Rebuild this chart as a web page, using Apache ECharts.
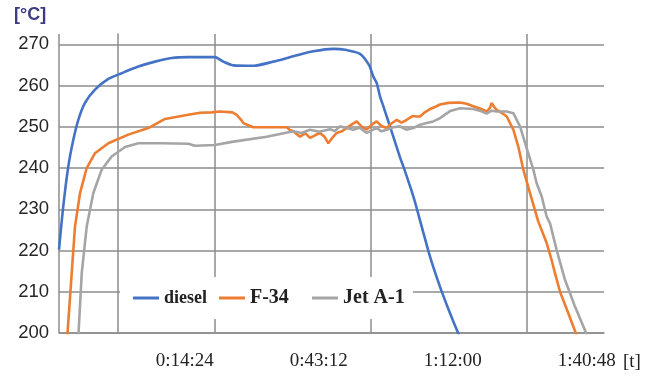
<!DOCTYPE html>
<html>
<head>
<meta charset="utf-8">
<title>Temperatura spalin</title>
<script src="https://cdn.jsdelivr.net/npm/echarts@6/dist/echarts.min.js"></script>
<style>
  html, body { margin: 0; padding: 0; background: #fff; }
  #chart { width: 660px; height: 381px; }
</style>
</head>
<body>
<div id="chart"></div>
<script>
// Time in seconds, temperature in °C
const dieselTime = [-756, -701, -636, -572, -507, -421, -292, -120, 52, 266, 482, 697, 911, 1255, 1362, 1491, 1749, 2007, 2265, 2522, 2780, 2953, 3124, 3240, 3296, 3340, 3382, 3425, 3469, 3554, 3640, 3683, 3812, 3920, 4027, 4156, 4285, 4400];
const dieselTemp = [220.2, 230.7, 240.4, 246.8, 251.7, 255.8, 259.0, 261.6, 263.0, 264.6, 265.8, 266.7, 266.9, 266.9, 265.8, 264.9, 264.8, 265.8, 267.1, 268.3, 268.9, 268.6, 267.7, 265.0, 262.2, 260.6, 257.4, 255.0, 252.5, 247.6, 242.6, 240.4, 233.1, 225.8, 218.5, 211.2, 204.8, 199.5];

const f34Time = [-650, -592, -550, -485, -399, -292, -120, 137, 395, 611, 911, 1062, 1213, 1320, 1480, 1535, 1600, 1620, 1749, 1950, 2179, 2222, 2265, 2351, 2420, 2480, 2550, 2609, 2670, 2716, 2770, 2824, 2890, 2953, 3020, 3082, 3150, 3211, 3280, 3340, 3400, 3469, 3530, 3598, 3660, 3727, 3800, 3855, 3898, 3960, 4027, 4090, 4156, 4263, 4414, 4500, 4585, 4680, 4758, 4800, 4822, 4850, 4887, 4950, 5016, 5101, 5165, 5230, 5316, 5423, 5531, 5595, 5638, 5703, 5810, 5920];
const f34Temp = [199.0, 214.5, 225.8, 233.9, 240.0, 243.6, 246.0, 248.1, 249.7, 251.9, 252.9, 253.4, 253.5, 253.7, 253.5, 252.9, 251.5, 250.9, 249.9, 249.9, 249.9, 249.2, 248.9, 247.6, 248.4, 247.3, 248.0, 248.5, 247.5, 246.0, 247.4, 248.5, 248.9, 249.7, 250.6, 251.3, 250.0, 249.3, 250.6, 251.3, 250.2, 249.7, 250.8, 251.7, 251.0, 251.7, 252.6, 252.5, 252.5, 253.5, 254.3, 254.8, 255.4, 255.8, 255.9, 255.6, 255.0, 254.4, 253.7, 254.6, 255.8, 254.9, 254.1, 253.4, 252.5, 249.3, 245.2, 239.6, 233.9, 227.0, 221.8, 217.7, 214.5, 210.0, 204.8, 199.3];

const jetTime = [-507, -463, -399, -314, -206, -77, 95, 266, 568, 911, 997, 1255, 1491, 1922, 2265, 2370, 2480, 2600, 2738, 2800, 2867, 2950, 3038, 3120, 3211, 3280, 3340, 3400, 3469, 3550, 3640, 3720, 3812, 3900, 3984, 4070, 4156, 4285, 4414, 4585, 4680, 4758, 4820, 4887, 5016, 5101, 5187, 5273, 5359, 5402, 5467, 5531, 5574, 5660, 5767, 5896, 6050];
const jetTemp = [199.0, 214.5, 225.8, 233.9, 239.6, 242.8, 245.1, 246.0, 246.0, 245.9, 245.4, 245.6, 246.4, 247.6, 248.9, 248.5, 249.3, 248.8, 249.4, 249.0, 250.1, 249.7, 249.3, 249.8, 248.5, 249.2, 249.7, 248.9, 249.3, 249.9, 250.1, 249.3, 249.7, 250.5, 250.9, 251.3, 252.1, 253.8, 254.5, 254.3, 253.8, 253.2, 253.9, 253.7, 253.7, 253.3, 250.1, 244.8, 239.6, 236.3, 233.1, 228.2, 226.6, 220.1, 212.9, 206.4, 199.5];

// Time axis labels (seconds)
const timeTicks = [864, 2592, 4320, 6048];

function zip(xs, ys) { return xs.map((x, i) => [x, ys[i]]); }

function hms(sec) {
  const h = Math.floor(sec / 3600);
  const m = Math.floor((sec % 3600) / 60);
  const s = Math.round(sec % 60);
  return h + ':' + String(m).padStart(2, '0') + ':' + String(s).padStart(2, '0');
}

const gridColor = '#8c8c8c';
const serif = '"Liberation Serif", "Times New Roman", serif';

const legendCommon = {
  icon: 'rect',
  itemWidth: 26, itemHeight: 3,
  itemGap: 12,
  textStyle: { fontFamily: serif, fontSize: 19, fontWeight: 'bold', color: '#222' }
};

const chart = echarts.init(document.getElementById('chart'), null, { renderer: 'canvas' });

chart.setOption({
  animation: false,
  backgroundColor: '#ffffff',
  title: [
    {
      text: '[°C]', left: 14, top: 6,
      textStyle: { fontFamily: '"Liberation Sans", Arial, sans-serif', fontSize: 18, fontWeight: 'bold', color: '#3d3c82' },
      padding: 0
    },
    {
      text: '[t]', left: 623, top: 353,
      textStyle: { fontFamily: serif, fontSize: 19, fontWeight: 'normal', color: '#222' },
      padding: 0
    }
  ],
  legend: [
    Object.assign({}, legendCommon, {
      left: 120, top: 277,
      padding: [11, 124, 11, 13],
      backgroundColor: '#ffffff',
      data: [
        { name: 'diesel', textStyle: { fontSize: 18 } },
        { name: 'F-34', textStyle: { fontSize: 20 } }
      ]
    }),
    Object.assign({}, legendCommon, {
      left: 312, top: 288,
      padding: 0,
      data: [
        { name: 'Jet A-1', textStyle: { fontSize: 20 } }
      ]
    })
  ],
  grid: { left: 59, right: 56, top: 34, bottom: 48, containLabel: false },
  xAxis: {
    type: 'value',
    min: -756, max: 6270, interval: 2010,
    axisLine: { show: true, lineStyle: { color: gridColor, width: 1.5 } },
    axisTick: { show: false },
    splitLine: { show: true, showMaxLine: false, lineStyle: { color: gridColor, width: 1.5 } },
    axisLabel: {
      customValues: timeTicks,
      formatter: (v) => hms(v),
      margin: 19,
      fontFamily: serif, fontSize: 19, color: '#222'
    }
  },
  yAxis: {
    type: 'value',
    min: 200, max: 272.5, interval: 10,
    axisLine: { show: true, lineStyle: { color: gridColor, width: 1.5 } },
    axisTick: { show: false },
    splitLine: { show: true, showMaxLine: false, lineStyle: { color: gridColor, width: 1.5 } },
    axisLabel: {
      showMaxLabel: false,
      margin: 10,
      fontFamily: '"Liberation Sans", Arial, sans-serif', fontSize: 18.5, color: '#262626'
    }
  },
  series: [
    {
      name: 'diesel', type: 'line', data: zip(dieselTime, dieselTemp),
      showSymbol: false, smooth: 0.25, clip: true,
      lineStyle: { color: '#4472c4', width: 2.6 }, itemStyle: { color: '#4472c4' }
    },
    {
      name: 'F-34', type: 'line', data: zip(f34Time, f34Temp),
      showSymbol: false, clip: true,
      lineStyle: { color: '#ed7d31', width: 2.6 }, itemStyle: { color: '#ed7d31' }
    },
    {
      name: 'Jet A-1', type: 'line', data: zip(jetTime, jetTemp),
      showSymbol: false, clip: true,
      lineStyle: { color: '#a5a5a5', width: 2.6 }, itemStyle: { color: '#a5a5a5' }
    }
  ]
});
</script>
</body>
</html>
